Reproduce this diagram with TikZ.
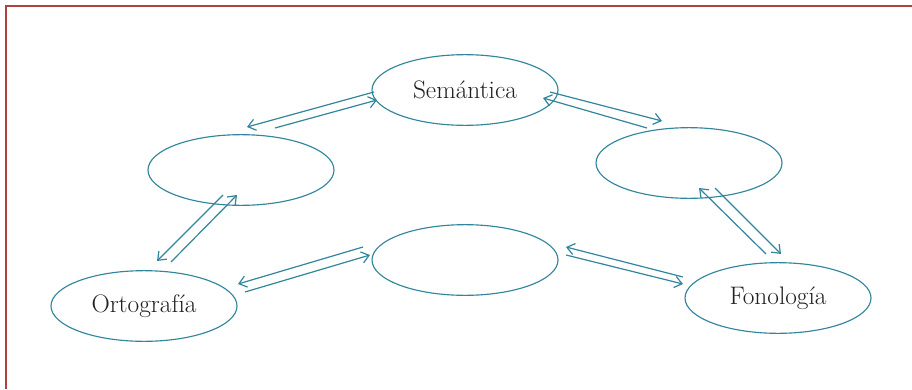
\documentclass[tikz,border=0pt]{standalone}
\usepackage{tikz}
\usetikzlibrary{arrows.meta,shapes.geometric,calc}
\definecolor{lnk}{HTML}{31859C}
\definecolor{frame}{HTML}{AE4141}
\definecolor{ink}{HTML}{231F20}
\tikzset{
  level/.style={ellipse, draw=lnk, line width=0.85pt, fill=white, inner sep=0pt,
                minimum width=139.5pt, minimum height=53pt,
                font=\fontsize{19}{22}\selectfont, text=ink},
  fl/.style={-{Straight Barb[length=5.5pt,width=8.5pt]}, draw=lnk, line width=0.9pt}
}

\begin{document}
\begin{tikzpicture}[x=0.75pt, y=-0.75pt]
  \useasboundingbox (0,0) rectangle (912,389);
  % frame
  \draw[frame, line width=1.8pt] (6,389) -- (6,6) -- (912,6);

  % levels
  \node[level] (sem) at (465,90) {Semántica};
  \node[level] (upl) at (241,170) {};
  \node[level] (upr) at (689,163) {};
  \node[level] (mid) at (465,260) {};
  \node[level] (orto) at (144,306) {Ortografía};
  \node[level] (fono) at (778,298) {Fonología};

  % two-way links
  \draw[fl] ($(sem)+(-91,2)$) -- ($(upl)+(6,-43)$);
  \draw[fl] ($(upl)+(34,-42)$) -- ($(sem)+(-88,10)$);

  \draw[fl] ($(sem)+(85,2)$) -- ($(upr)+(-27,-42)$);
  \draw[fl] ($(upr)+(-42,-35)$) -- ($(sem)+(78,8)$);

  \draw[fl] ($(upl)+(-18,25)$) -- ($(orto)+(13,-45)$);
  \draw[fl] ($(orto)+(27,-44)$) -- ($(upl)+(-4,25)$);

  \draw[fl] ($(mid)+(-102,-13)$) -- ($(orto)+(94,-22)$);
  \draw[fl] ($(orto)+(101,-14)$) -- ($(mid)+(-95,-5)$);

  \draw[fl] ($(fono)+(-95,-21)$) -- ($(mid)+(101,-13)$);
  \draw[fl] ($(mid)+(101,-5)$) -- ($(fono)+(-95,-14)$);

  \draw[fl] ($(fono)+(-12,-44)$) -- ($(upr)+(10,25)$);
  \draw[fl] ($(upr)+(26,25)$) -- ($(fono)+(3,-44)$);
\end{tikzpicture}
\end{document}
